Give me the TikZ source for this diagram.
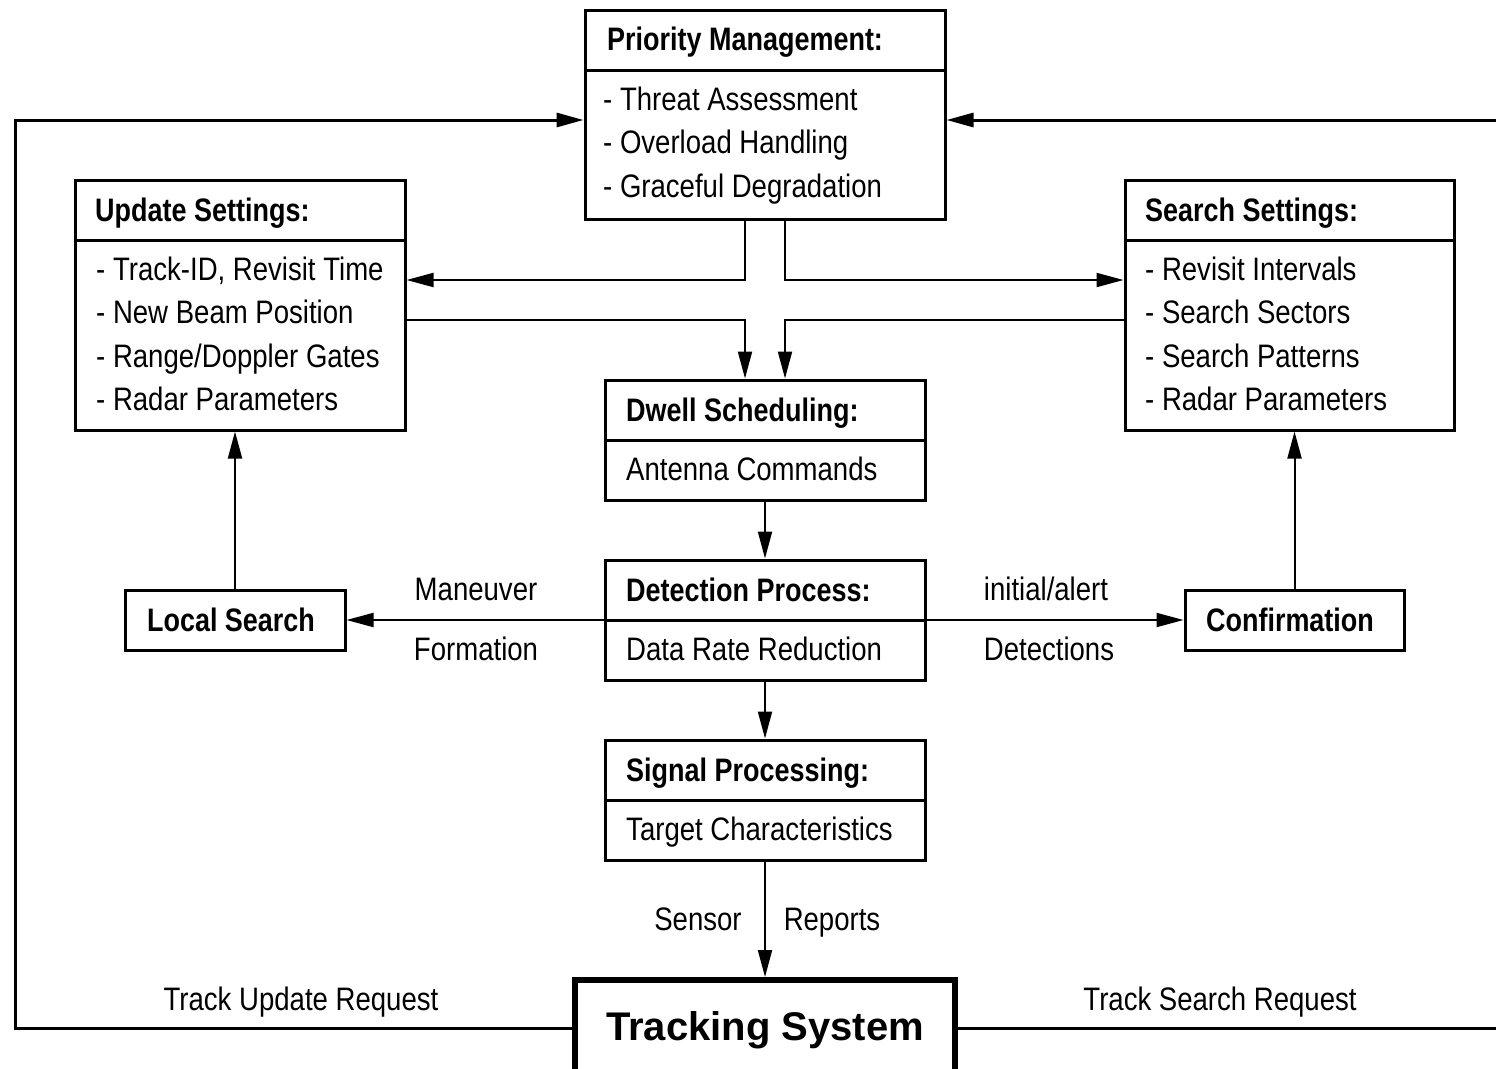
\documentclass[tikz,border=0pt]{standalone}
\usepackage{fontspec}
\setmainfont{Liberation Sans}[FakeStretch=0.848]
\newfontfamily\boldfnt{Liberation Sans}[FakeStretch=0.83]
\newfontfamily\bigfont{Liberation Sans}
\usetikzlibrary{arrows.meta}
\tikzset{
 box/.style={draw, line width=3pt, rectangle, inner sep=0pt},
 conn/.style={line width=2pt, -{Triangle[length=27pt,width=14pt]}},
 fb/.style={line width=3pt, -{Triangle[length=27pt,width=14pt]}},
 ttl/.style={inner sep=0pt, anchor=base west, font=\boldfnt\fontsize{32.5}{40}\selectfont\bfseries},
 itm/.style={inner sep=0pt, anchor=base west, font=\fontsize{32.5}{40}\selectfont},
 lbl/.style={inner sep=0pt, anchor=base, font=\fontsize{32.5}{40}\selectfont},
 blbl/.style={inner sep=0pt, anchor=base, font=\boldfnt\fontsize{32.5}{40}\selectfont\bfseries},
 divl/.style={line width=3pt}
}
\begin{document}
\begin{tikzpicture}[x=1pt,y=-1pt]
\useasboundingbox (0,0) rectangle (1496,1068);
\clip (0,0) rectangle (1496,1068);
\fill[white] (0,0) rectangle (1496,1068);

% boxes
\node[box, minimum width=360pt, minimum height=209pt] (pm) at (765,114.5) {};
\node[box, minimum width=330pt, minimum height=250pt] (us) at (240,305) {};
\node[box, minimum width=329pt, minimum height=250pt] (ss) at (1289.5,305) {};
\node[box, minimum width=320pt, minimum height=120pt] (ds) at (765,440) {};
\node[box, minimum width=320pt, minimum height=120pt] (dp) at (765,620) {};
\node[box, minimum width=320pt, minimum height=120pt] (sp) at (765,800) {};
\node[box, minimum width=220pt, minimum height=60pt] (ls) at (235,620) {};
\node[box, minimum width=219pt, minimum height=60pt] (cf) at (1294.5,620) {};
\node[draw, line width=6pt, rectangle, inner sep=0pt, minimum width=380pt, minimum height=96pt] (ts) at (765,1028) {};

% dividers
\draw[divl] (pm.west |- 0,70) -- (pm.east |- 0,70);
\draw[divl] (us.west |- 0,240) -- (us.east |- 0,240);
\draw[divl] (ss.west |- 0,240) -- (ss.east |- 0,240);
\draw[divl] (ds.west) -- (ds.east);
\draw[divl] (dp.west) -- (dp.east);
\draw[divl] (sp.west) -- (sp.east);

% texts
\node[ttl] (pmt) at (607,50) {Priority Management:};
\node[itm] (pm1) at (603,110) {- Threat Assessment};
\node[itm] (pm2) at (603,153.5) {- Overload Handling};
\node[itm] (pm3) at (603,197) {- Graceful Degradation};

\node[ttl] (ust) at (95,221) {Update Settings:};
\node[itm] (us1) at (96,280) {- Track-ID, Revisit Time};
\node[itm] (us2) at (96,323.5) {- New Beam Position};
\node[itm] (us3) at (96,367) {- Range/Doppler Gates};
\node[itm] (us4) at (96,410.5) {- Radar Parameters};

\node[ttl] (sst) at (1145,221) {Search Settings:};
\node[itm] (ss1) at (1145,280) {- Revisit Intervals};
\node[itm] (ss2) at (1145,323.5) {- Search Sectors};
\node[itm] (ss3) at (1145,367) {- Search Patterns};
\node[itm] (ss4) at (1145,410.5) {- Radar Parameters};

\node[ttl] (dst) at (626,421) {Dwell Scheduling:};
\node[itm] (ds1) at (626,480) {Antenna Commands};
\node[ttl] (dpt) at (626,601) {Detection Process:};
\node[itm] (dp1) at (626,660) {Data Rate Reduction};
\node[ttl] (spt) at (626,781) {Signal Processing:};
\node[itm] (sp1) at (626,840) {Target Characteristics};

\node[blbl] (lst) at (231,631) {Local Search};
\node[blbl] (cft) at (1290,631) {Confirmation};
\node[inner sep=0pt, anchor=base, font=\bigfont\fontsize{40}{48}\selectfont\bfseries] (tst) at (765,1040) {Tracking System};

% labels
\node[lbl] (l1) at (476,600) {Maneuver};
\node[lbl] (l2) at (476,660) {Formation};
\node[lbl] (l3) at (1046,600) {initial/alert};
\node[lbl] (l4) at (1049,660) {Detections};
\node[lbl] (l5) at (698,930) {Sensor};
\node[lbl] (l6) at (832,930) {Reports};
\node[lbl] (l7) at (301,1010) {Track Update Request};
\node[lbl] (l8) at (1220,1010) {Track Search Request};

% connectors
\draw[conn] ([xshift=-20pt]pm.south) |- (us.east |- 0,280);
\draw[conn] ([xshift=20pt]pm.south) |- (ss.west |- 0,280);
\draw[conn] (us.east |- 0,320) -| ([xshift=-20pt]ds.north);
\draw[conn] (ss.west |- 0,320) -| ([xshift=20pt]ds.north);
\draw[conn] (ds.south) -- (dp.north);
\draw[conn] (dp.west) -- (ls.east);
\draw[conn] (dp.east) -- (cf.west);
\draw[conn] (ls.north) -- (ls.north |- us.south);
\draw[conn] (cf.north) -- (cf.north |- ss.south);
\draw[conn] (dp.south) -- (sp.north);
\draw[conn] (sp.south) -- (ts.north);

% feedback loops
\coordinate (lc) at (15,120);
\coordinate (rc) at (1510,120);
\draw[fb] (ts.west) -| (lc) -- (pm.west |- lc);
\draw[fb] (ts.east) -| (rc) -- (pm.east |- rc);
\end{tikzpicture}
\end{document}
